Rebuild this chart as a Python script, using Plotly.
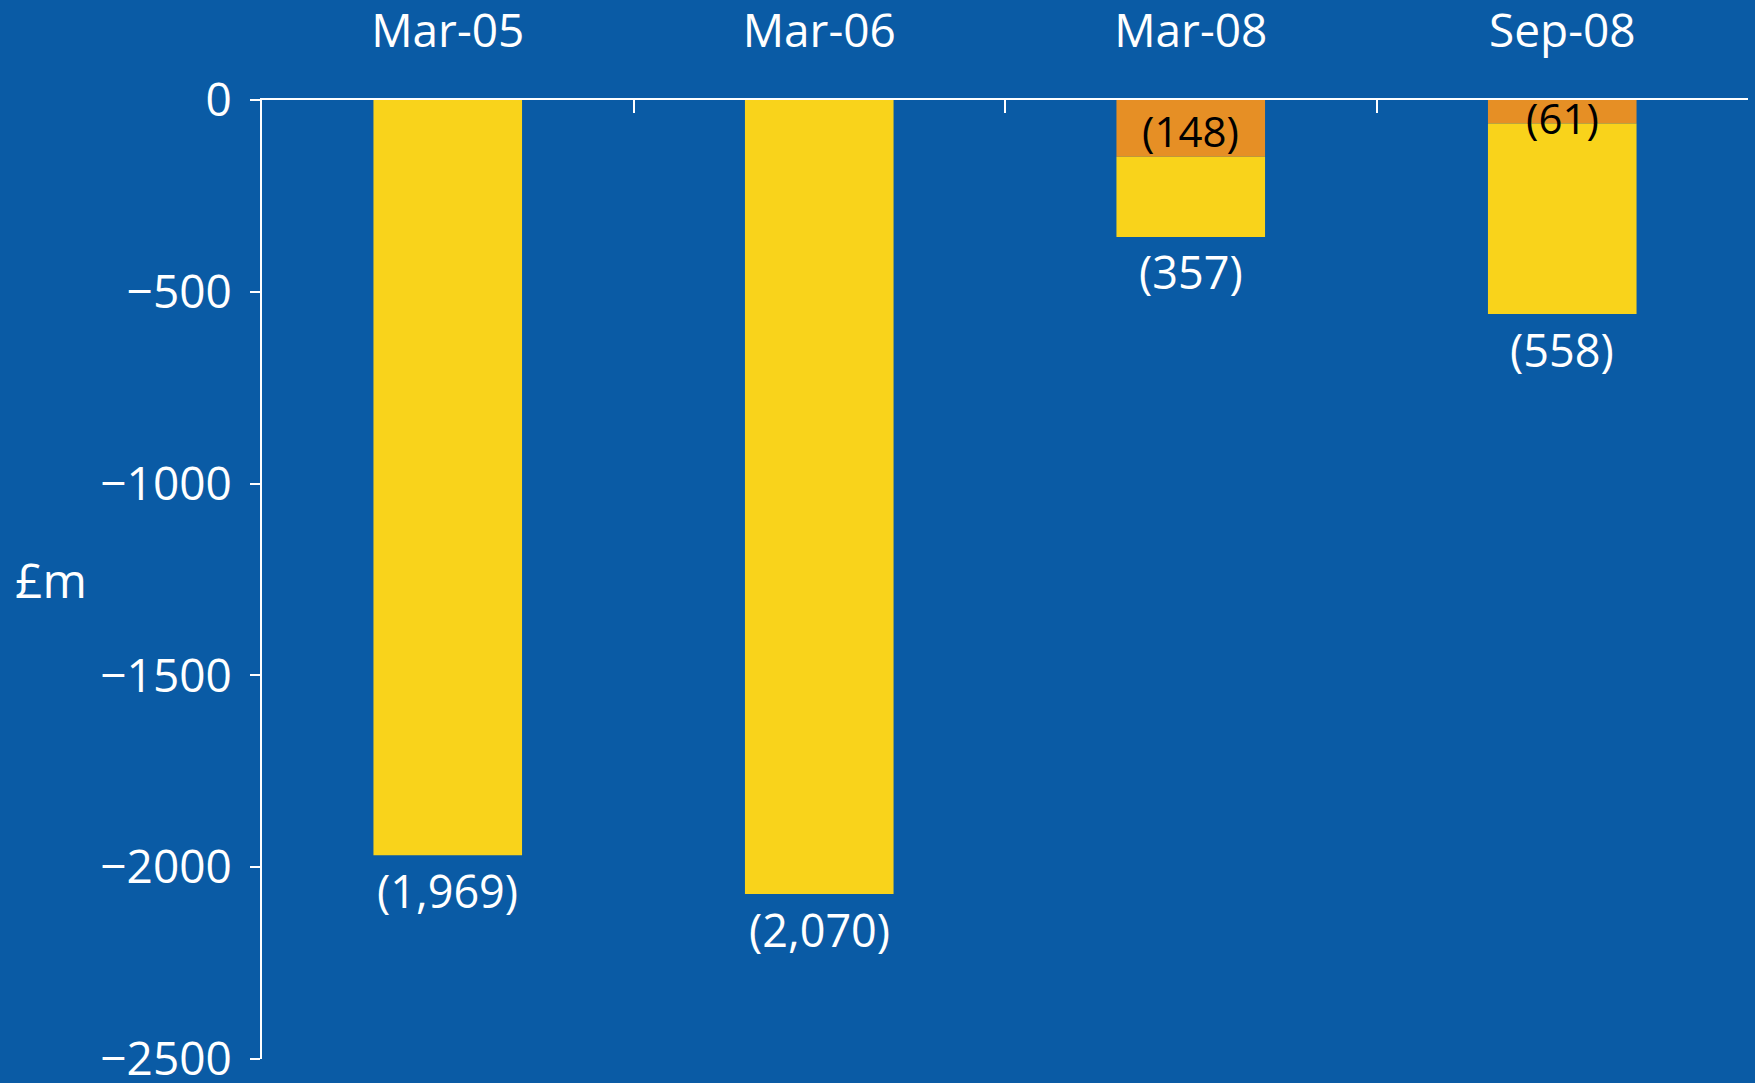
import plotly.graph_objects as go

categories = ["Mar-05", "Mar-06", "Mar-08", "Sep-08"]
yellow_values = [-1969, -2070, -209, -497]
orange_values = [0, 0, -148, -61]
total_values = [-1969, -2070, -357, -558]
total_labels = ["(1,969)", "(2,070)", "(357)", "(558)"]
orange_labels = ["", "", "(148)", "(61)"]
y_tick_vals = [0, -500, -1000, -1500, -2000, -2500]
y_tick_text = ["0", "\u2212500", "\u22121000", "\u22121500", "\u22122000", "\u22122500"]

BG = "#0A5BA5"
YELLOW = "#F9D31B"
ORANGE = "#E68F25"
FONT = "Open Sans"

fig = go.Figure()
fig.add_trace(go.Bar(x=categories, y=orange_values, marker=dict(color=ORANGE, line=dict(width=0)),
                     showlegend=False, hoverinfo="skip"))
fig.add_trace(go.Bar(x=categories, y=yellow_values, marker=dict(color=YELLOW, line=dict(width=0)),
                     showlegend=False, hoverinfo="skip"))

annotations = []
for c, t, lab in zip(categories, total_values, total_labels):
    annotations.append(dict(x=c, y=t, text=lab, showarrow=False, yanchor="middle", yshift=-35,
                            font=dict(family=FONT, size=45, color="white")))
for c, o, lab in zip(categories, orange_values, orange_labels):
    if lab:
        annotations.append(dict(x=c, y=o / 2, text=lab, showarrow=False, yanchor="middle",
                                yshift=-2 if o < -100 else -6,
                                font=dict(family=FONT, size=42, color="black")))
annotations.append(dict(xref="paper", yref="paper", x=-0.142, y=0.5, text="£m", showarrow=False,
                        xanchor="center", yanchor="middle",
                        font=dict(family=FONT, size=48, color="white")))

fig.update_layout(
    width=1755, height=1083,
    margin=dict(l=262, r=7, t=100, b=24),
    paper_bgcolor=BG, plot_bgcolor=BG,
    barmode="relative", bargap=0.6,
    font=dict(family=FONT, color="white", size=46),
    annotations=annotations,
    xaxis=dict(side="top", showline=True, linecolor="white", linewidth=2, automargin=False,
               ticks="inside", tickson="boundaries", ticklen=13, tickwidth=2, tickcolor="white",
               showgrid=False, zeroline=False, ticklabelstandoff=33,
               tickfont=dict(family=FONT, size=46, color="white"), range=[-0.5, 3.5]),
    yaxis=dict(range=[-2500, 0], showline=True, linecolor="white", linewidth=2, automargin=False,
               ticks="outside", ticklen=10, tickwidth=2, tickcolor="white",
               tickvals=y_tick_vals, ticktext=y_tick_text, ticklabelstandoff=9,
               ticklabeloverflow="allow",
               showgrid=False, zeroline=False,
               tickfont=dict(family=FONT, size=46, color="white")),
)

fig.write_html("out.html")
